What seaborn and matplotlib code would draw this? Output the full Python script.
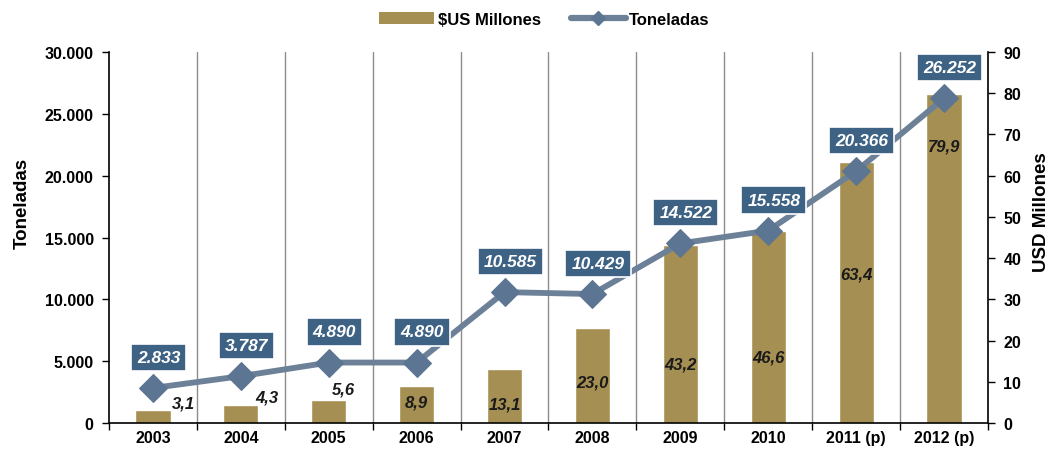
import matplotlib
matplotlib.use("Agg")
import matplotlib.pyplot as plt
import matplotlib.ticker as mticker
from matplotlib.patches import Patch
from matplotlib.lines import Line2D
import seaborn as sns
import pandas as pd
import numpy as np

years = ["2003", "2004", "2005", "2006", "2007", "2008", "2009", "2010", "2011 (p)", "2012 (p)"]
usd_millones = [3.1, 4.3, 5.6, 8.9, 13.1, 23.0, 43.2, 46.6, 63.4, 79.9]
toneladas = [2833, 3787, 4890, 4890, 10585, 10429, 14522, 15558, 20366, 26252]

# label placement for bar values (x shift in categories, y in USD units)
bar_label_dx = [0.35, 0.3, 0.17, 0.0, 0.0, 0.0, 0.0, 0.0, 0.0, 0.0]
bar_label_y = [4.9, 6.3, 8.2, 5.1, 4.6, 9.9, 14.3, 16.0, 36.1, 67.2]

sns.set_theme(style="white")
plt.rcParams['font.family'] = ['Liberation Sans', 'DejaVu Sans']
plt.rcParams['axes.labelcolor'] = 'black'
plt.rcParams['text.color'] = 'black'

bar_color = "#A58F52"
line_color = "#6C8198"
marker_color = "#5B7593"
box_color = "#3E6283"

fig = plt.figure(figsize=(10.57, 4.52), dpi=100)
fig.patch.set_facecolor("white")
ax_r = fig.add_axes([0.1031, 0.0619, 0.9347 - 0.1031, 0.8827 - 0.0619])
ax_l = ax_r.twinx()

df = pd.DataFrame({"year": years, "usd": usd_millones, "ton": toneladas})
df["pos"] = np.arange(len(years))

# Bars on right (USD) axis
sns.barplot(data=df, x="year", y="usd", color=bar_color, width=0.4, saturation=1,
            ax=ax_r, zorder=2)
ax_r.set_ylim(0, 90)
ax_r.set_xlim(-0.5, len(years) - 0.5)
ax_r.yaxis.tick_right()
ax_r.yaxis.set_label_position("right")
ax_r.set_yticks(np.arange(0, 91, 10))
ax_r.set_ylabel("USD Millones", fontsize=13.5, fontweight="bold")
ax_r.yaxis.set_label_coords(1.051, 0.57)
ax_r.set_xlabel("")

# Line on left (Toneladas) axis
ax_l.set_zorder(ax_r.get_zorder() + 1)
ax_l.patch.set_visible(False)
sns.lineplot(data=df, x="pos", y="ton", ax=ax_l, color=line_color, linewidth=4.2,
             marker="D", markersize=14, markerfacecolor=marker_color,
             markeredgecolor=marker_color, zorder=3)
ax_l.set_ylim(0, 30000)
ax_l.set_xlim(-0.5, len(years) - 0.5)
ax_l.yaxis.tick_left()
ax_l.yaxis.set_label_position("left")
ax_l.set_yticks(np.arange(0, 30001, 5000))
ax_l.yaxis.set_major_formatter(mticker.FuncFormatter(lambda v, p: f"{int(v):,}".replace(",", ".")))
ax_l.set_ylabel("Toneladas", fontsize=13.5, fontweight="bold")
ax_l.yaxis.set_label_coords(-0.089, 0.595)
ax_l.set_xlabel("")

# vertical grid lines at category boundaries
for b in np.arange(0.5, len(years) - 0.5, 1):
    ax_r.axvline(b, color="#8C8C8C", linewidth=1.0, zorder=1)

# spines
for a in (ax_r, ax_l):
    for s in a.spines.values():
        s.set_visible(False)
ax_l.spines["left"].set_visible(True)
ax_l.spines["left"].set_color("black")
ax_l.spines["left"].set_linewidth(1.2)
ax_r.spines["right"].set_visible(True)
ax_r.spines["right"].set_color("black")
ax_r.spines["right"].set_linewidth(1.2)
ax_r.spines["bottom"].set_visible(True)
ax_r.spines["bottom"].set_color("black")
ax_r.spines["bottom"].set_linewidth(1.2)

# ticks
ax_r.set_xticks(np.arange(len(years)))
ax_r.set_xticklabels(years, fontsize=11.5, fontweight="bold")
ax_r.set_xticks(np.arange(-0.5, len(years), 1), minor=True)
ax_r.tick_params(axis="x", which="major", length=0, pad=5, colors="black")
ax_r.tick_params(axis="x", which="minor", length=5, width=1, direction="out", bottom=True, color="black")
ax_r.tick_params(axis="y", which="major", right=True, left=False, length=5, width=1,
                 direction="out", labelsize=11.5, colors="black", pad=6)
for t in ax_r.get_yticklabels():
    t.set_fontweight("bold")
ax_l.tick_params(axis="y", which="major", left=True, right=False, length=5, width=1,
                 direction="out", labelsize=11.5, colors="black", pad=6)
for t in ax_l.get_yticklabels():
    t.set_fontweight("bold")
ax_l.tick_params(axis="x", bottom=False, labelbottom=False)

# bar value labels
for i, v in enumerate(usd_millones):
    ax_r.text(i + bar_label_dx[i], bar_label_y[i], f"{v:.1f}".replace(".", ","),
              ha="center", va="center", fontsize=12, fontweight="bold",
              fontstyle="italic", color="#1A1A1A", zorder=4)

# tonnage labels in boxes
for i, v in enumerate(toneladas):
    ax_l.annotate(f"{v:,}".replace(",", "."), xy=(i, v), xytext=(4, 22),
                  textcoords="offset points", ha="center", va="center",
                  fontsize=12.5, fontweight="bold", fontstyle="italic", color="white",
                  bbox=dict(boxstyle="square,pad=0.35", fc=box_color, ec="white", lw=1.2),
                  zorder=5)

# legend
handles = [Patch(facecolor=bar_color, edgecolor="none", label="$US Millones"),
           Line2D([0], [0], color=line_color, linewidth=4.5, marker="D", markersize=7,
                  markerfacecolor=marker_color, markeredgecolor=marker_color, label="Toneladas")]
fig.legend(handles=handles, loc="center", bbox_to_anchor=(0.515, 0.955), ncol=2, frameon=False,
           prop={"weight": "bold", "size": 12}, handlelength=3.3, handletextpad=0.2,
           columnspacing=1.8)

fig.savefig("out.png", dpi=100, facecolor="white")
